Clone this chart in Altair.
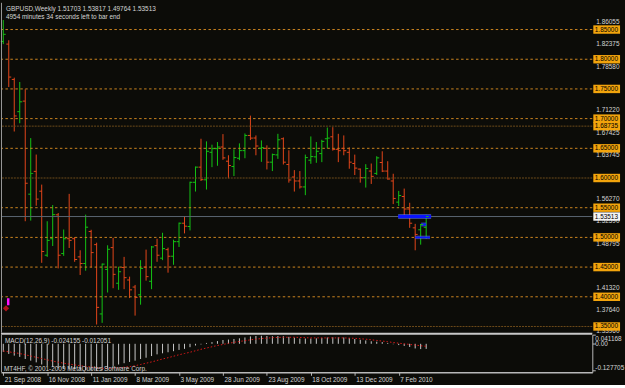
import altair as alt
import pandas as pd

FONT = "Liberation Sans"

# ---------------- data ----------------
opens = [1.8300, 1.8255, 1.7660, 1.7117, 1.7295, 1.5728, 1.6112, 1.5778, 1.4700, 1.4978,
         1.5380, 1.4728, 1.4978, 1.4978, 1.4672, 1.4560, 1.5100, 1.4878, 1.3711, 1.4461,
         1.4828, 1.4228, 1.4494, 1.4283, 1.4164, 1.4033, 1.4500, 1.4261, 1.4861, 1.4650,
         1.4794, 1.4683, 1.4928, 1.5239, 1.5183, 1.5928, 1.6183, 1.5970, 1.6433, 1.6494,
         1.6522, 1.6283, 1.6194, 1.6333, 1.6461, 1.6717, 1.6672, 1.6500, 1.6500, 1.6267,
         1.6389, 1.6661, 1.6228, 1.6017, 1.5950, 1.5850, 1.6300, 1.6356, 1.6411, 1.6661,
         1.6694, 1.6483, 1.6500, 1.6433, 1.6244, 1.6150, 1.6006, 1.6117, 1.6078, 1.6261,
         1.6117, 1.5950, 1.5594, 1.5689, 1.5478, 1.5161, 1.5128, 1.51703]
highs = [1.8660, 1.8320, 1.7690, 1.7617, 1.7494, 1.6672, 1.6395, 1.5889, 1.5272, 1.5545,
         1.5411, 1.5133, 1.5733, 1.5006, 1.4783, 1.5383, 1.5128, 1.4911, 1.4560, 1.4867,
         1.4994, 1.4506, 1.4672, 1.4339, 1.4200, 1.4617, 1.4794, 1.4856, 1.4978, 1.5078,
         1.4828, 1.4961, 1.5250, 1.5356, 1.5939, 1.6194, 1.6661, 1.6617, 1.6561, 1.6606,
         1.6739, 1.6383, 1.6483, 1.6583, 1.6750, 1.7050, 1.6717, 1.6633, 1.6550, 1.6411,
         1.6744, 1.6683, 1.6467, 1.6133, 1.6117, 1.6394, 1.6700, 1.6606, 1.6644, 1.6850,
         1.6856, 1.6744, 1.6717, 1.6517, 1.6394, 1.6161, 1.6233, 1.6244, 1.6367, 1.6450,
         1.6283, 1.6072, 1.5783, 1.5822, 1.5583, 1.5228, 1.5228, 1.53817]
lows = [1.8255, 1.7533, 1.6783, 1.6922, 1.5272, 1.5283, 1.5533, 1.4572, 1.4672, 1.4855,
        1.4478, 1.4689, 1.4822, 1.4589, 1.4367, 1.4439, 1.4494, 1.3533, 1.3561, 1.4072,
        1.4144, 1.4117, 1.4128, 1.3978, 1.3683, 1.3867, 1.4272, 1.4128, 1.4589, 1.4617,
        1.4406, 1.4539, 1.4839, 1.5067, 1.5117, 1.5772, 1.5950, 1.5806, 1.6183, 1.6206,
        1.6306, 1.5994, 1.6033, 1.6300, 1.6333, 1.6639, 1.6383, 1.6272, 1.6144, 1.6117,
        1.6322, 1.6228, 1.5922, 1.5772, 1.5822, 1.5711, 1.6239, 1.6256, 1.6267, 1.6500,
        1.6461, 1.6267, 1.6383, 1.6156, 1.6050, 1.5922, 1.5839, 1.5900, 1.6050, 1.6100,
        1.5972, 1.5561, 1.5528, 1.5361, 1.5161, 1.4783, 1.4878, 1.49764]
closes = [1.8420, 1.7700, 1.7045, 1.7283, 1.5912, 1.6078, 1.5645, 1.4762, 1.4950, 1.5383,
          1.4700, 1.4978, 1.4950, 1.4628, 1.4560, 1.5172, 1.4744, 1.3822, 1.4550, 1.4800,
          1.4378, 1.4422, 1.4322, 1.4117, 1.3989, 1.4478, 1.4339, 1.4839, 1.4700, 1.4811,
          1.4683, 1.4928, 1.5239, 1.5189, 1.5928, 1.6183, 1.5972, 1.6450, 1.6494, 1.6522,
          1.6339, 1.6211, 1.6344, 1.6461, 1.6717, 1.6672, 1.6539, 1.6511, 1.6267, 1.6394,
          1.6644, 1.6267, 1.5967, 1.5950, 1.5850, 1.6344, 1.6361, 1.6450, 1.6617, 1.6672,
          1.6483, 1.6460, 1.6460, 1.6267, 1.6167, 1.6006, 1.6161, 1.6028, 1.6339, 1.6117,
          1.5983, 1.5656, 1.5706, 1.5478, 1.5239, 1.5050, 1.5217, 1.53513]

macd_main = [-0.038, -0.048, -0.056, -0.062, -0.072, -0.080, -0.088, -0.098, -0.105, -0.110,
             -0.115, -0.118, -0.120, -0.122, -0.124, -0.124, -0.125, -0.1277, -0.126, -0.118,
             -0.105, -0.098, -0.092, -0.086, -0.080, -0.072, -0.066, -0.058, -0.050, -0.045,
             -0.040, -0.035, -0.029, -0.024, -0.016, -0.008, -0.003, 0.004, 0.008, 0.013,
             0.018, 0.020, 0.023, 0.026, 0.030, 0.035, 0.037, 0.038, 0.037, 0.036,
             0.037, 0.036, 0.033, 0.029, 0.025, 0.025, 0.025, 0.026, 0.028, 0.030,
             0.031, 0.031, 0.030, 0.027, 0.023, 0.019, 0.016, 0.012, 0.010, 0.008,
             0.004, -0.002, -0.006, -0.010, -0.015, -0.022, -0.025, -0.024155]
macd_signal = [-0.034, -0.038, -0.042, -0.046, -0.052, -0.058, -0.064, -0.070, -0.076, -0.082,
               -0.087, -0.092, -0.096, -0.100, -0.104, -0.107, -0.110, -0.113, -0.116, -0.117,
               -0.116, -0.114, -0.111, -0.108, -0.104, -0.098, -0.092, -0.086, -0.079, -0.072,
               -0.066, -0.059, -0.052, -0.046, -0.040, -0.033, -0.026, -0.020, -0.014, -0.008,
               -0.003, 0.002, 0.007, 0.011, 0.015, 0.019, 0.022, 0.025, 0.027, 0.029,
               0.030, 0.031, 0.031, 0.031, 0.030, 0.029, 0.028, 0.028, 0.028, 0.028,
               0.028, 0.028, 0.028, 0.027, 0.026, 0.024, 0.022, 0.019, 0.016, 0.013,
               0.010, 0.006, 0.003, 0.000, -0.003, -0.006, -0.009, -0.012051]

level_prices = [1.85, 1.80, 1.75, 1.70, 1.68735, 1.65, 1.60, 1.55, 1.50, 1.45, 1.40, 1.35]
level_labels = ["1.85000", "1.80000", "1.75000", "1.70000", "1.68735", "1.65000",
                "1.60000", "1.55000", "1.50000", "1.45000", "1.40000", "1.35000"]
level_dim = [False, False, False, False, True, False, True, False, False, False, False, True]

price_ticks = [1.86055, 1.82375, 1.78580, 1.71220, 1.67425, 1.63745, 1.56270,
               1.52590, 1.48795, 1.41320, 1.37640, 1.33960]
price_tick_labels = ["1.86055", "1.82375", "1.78580", "1.71220", "1.67425", "1.63745",
                     "1.56270", "1.52590", "1.48795", "1.41320", "1.37640", "1.33960"]
bid_price = 1.53513
bid_label = "1.53513"

date_ticks = [0, 8, 16, 24, 32, 40, 48, 56, 64, 72]
date_labels = ["21 Sep 2008", "16 Nov 2008", "11 Jan 2009", "8 Mar 2009", "3 May 2009",
               "28 Jun 2009", "23 Aug 2009", "18 Oct 2009", "13 Dec 2009", "7 Feb 2010"]

macd_ticks = [0.041168, 0.0, -0.127705]
macd_tick_labels = ["0.041168", "0.00", "-0.127705"]

blue_start = [71.9, 75.0, 76.1]
blue_end = [77.9, 77.7, 77.0]
blue_price = [1.53513, 1.5000, 1.5217]
blue_width = [3.0, 1.5, 2.0]

title_line1 = "GBPUSD,Weekly  1.51703 1.53817 1.49764 1.53513"
title_line2 = "4954 minutes 34 seconds left to bar end"
macd_title = "MACD(12,26,9) -0.024155 -0.012051"
copyright_text = "MT4HF, \u00a9 2001-2009 MetaQuotes Software Corp."

# ---------------- layout ----------------
W = 597
H_MAIN = 333
H_MACD = 38
BG = "#0c0c08"
FRAME = "#b8b8b8"
LABEL = "#d4d4d4"

n = len(opens)
idx = list(range(n))
df = pd.DataFrame({"i": idx, "o": opens, "h": highs, "l": lows, "c": closes})
df["dir"] = ["up" if c >= o else "down" for o, c in zip(opens, closes)]

x_scale = alt.Scale(domain=[-0.415, 107.25], nice=False, zero=False)
y_scale = alt.Scale(domain=[1.3396, 1.8950], nice=False, zero=False)
col_scale = alt.Scale(domain=["up", "down"], range=["#14c414", "#e4461a"])

X = alt.X("i:Q", scale=x_scale, axis=None)


def PY(field):
    return alt.Y(field, scale=y_scale, axis=None, title=None)


wicks = alt.Chart(df).mark_rule(strokeWidth=1).encode(
    x=X,
    y=alt.Y("l:Q", scale=y_scale, title=None, axis=alt.Axis(
        orient="right", values=price_ticks, labels=False,
        tickColor=FRAME, tickSize=3, domainColor=FRAME, grid=False)),
    y2="h:Q",
    color=alt.Color("dir:N", scale=col_scale, legend=None))
open_ticks = alt.Chart(df).mark_tick(orient="horizontal", size=2.5, thickness=1,
                                     xOffset=-1.25, opacity=1).encode(
    x=X, y=PY("o:Q"), color=alt.Color("dir:N", scale=col_scale, legend=None))
close_ticks = alt.Chart(df).mark_tick(orient="horizontal", size=2.5, thickness=1,
                                      xOffset=1.25, opacity=1).encode(
    x=X, y=PY("c:Q"), color=alt.Color("dir:N", scale=col_scale, legend=None))

df_lv = pd.DataFrame({"p": level_prices, "label": level_labels, "dim": level_dim})
lv_bright = alt.Chart(df_lv[~df_lv["dim"]]).mark_rule(
    strokeWidth=1, color="#cc8620", strokeDash=[2.5, 2.5]).encode(y=PY("p:Q"))
lv_dimmed = alt.Chart(df_lv[df_lv["dim"]]).mark_rule(
    strokeWidth=1, color="#6e4c1a", strokeDash=[2, 1]).encode(y=PY("p:Q"))

df_bid = pd.DataFrame({"p": [bid_price], "label": [bid_label]})
bid_line = alt.Chart(df_bid).mark_rule(strokeWidth=1, color="#5a6672").encode(y=PY("p:Q"))

df_blue = pd.DataFrame({"a": blue_start, "b": blue_end, "p": blue_price, "w": blue_width})
blue_glow = alt.Chart(df_blue).mark_rule(color="#5a78ff", opacity=0.55).encode(
    x=X, x2="b:Q", y=PY("p:Q"),
    strokeWidth=alt.StrokeWidth("w2:Q", scale=None)).transform_calculate(
    w2="datum.w + 2").transform_calculate(i="datum.a")
blue_core = alt.Chart(df_blue).mark_rule(color="#0a14ff").encode(
    x=X, x2="b:Q", y=PY("p:Q"),
    strokeWidth=alt.StrokeWidth("w:Q", scale=None)).transform_calculate(i="datum.a")

# gray price scale labels (drawn as text so none is dropped)
df_pt = pd.DataFrame({"p": price_ticks[:-1], "t": price_tick_labels[:-1]})
pt_txt = alt.Chart(df_pt).mark_text(align="left", baseline="middle", font=FONT,
                                    fontSize=6.5, color=LABEL, dy=-1).encode(
    y=PY("p:Q"), x=alt.value(601), text="t:N")
df_lowtick = pd.DataFrame({"p": [price_ticks[-1]], "t": [price_tick_labels[-1]]})
low_lbl = alt.Chart(df_lowtick).mark_text(align="left", baseline="bottom", font=FONT,
                                          fontSize=6.5, color=LABEL, dy=1.5).encode(
    y=PY("p:Q"), x=alt.value(601), text="t:N")

lv_box = alt.Chart(df_lv).mark_tick(orient="horizontal", size=27, thickness=8.5,
                                    color="#f2a40c", opacity=1).encode(
    y=PY("p:Q"), x=alt.value(611.5))
lv_txt = alt.Chart(df_lv).mark_text(align="left", baseline="middle", font=FONT,
                                    fontSize=6.5, color="#000000").encode(
    y=PY("p:Q"), x=alt.value(599.5), text="label:N")
bid_box = alt.Chart(df_bid).mark_tick(orient="horizontal", size=27, thickness=8.5,
                                      color="#f4f4f4", opacity=1).encode(
    y=PY("p:Q"), x=alt.value(611.5))
bid_txt = alt.Chart(df_bid).mark_text(align="left", baseline="middle", font=FONT,
                                      fontSize=6.5, color="#000000").encode(
    y=PY("p:Q"), x=alt.value(599.5), text="label:N")

df_marker = pd.DataFrame({"i": [0.5, 0.9], "p": [1.3805, 1.3915]})
marker_red = alt.Chart(df_marker.iloc[[0]]).mark_point(
    shape="diamond", size=40, filled=True, color="#c8141a", opacity=0.85).encode(
    x=X, y=PY("p:Q"))
marker_mag = alt.Chart(df_marker.iloc[[1]]).mark_tick(
    orient="vertical", size=7, thickness=2.5, color="#ff10ff", opacity=1).encode(
    x=X, y=PY("p:Q"))

one = pd.DataFrame({"k": [0]})
left_border = alt.Chart(one).mark_rule(color="#9a9a9a", strokeWidth=1).encode(
    x=alt.value(0.5), y=alt.value(0), y2=alt.value(H_MAIN))
title1 = alt.Chart(pd.DataFrame({"t": [title_line1]})).mark_text(
    align="left", baseline="middle", font=FONT, fontSize=6.5, color=LABEL).encode(
    x=alt.value(5), y=alt.value(6.5), text="t:N")
title2 = alt.Chart(pd.DataFrame({"t": [title_line2]})).mark_text(
    align="left", baseline="middle", font=FONT, fontSize=6.5, color=LABEL).encode(
    x=alt.value(5), y=alt.value(14.5), text="t:N")

main = alt.layer(
    wicks, lv_bright, lv_dimmed, bid_line, blue_glow, blue_core,
    open_ticks, close_ticks, marker_red, marker_mag,
    pt_txt, low_lbl, lv_box, lv_txt, bid_box, bid_txt, left_border, title1, title2
).properties(width=W, height=H_MAIN)

# ---------------- MACD panel ----------------
df_m = pd.DataFrame({"i": idx, "m": macd_main, "s": macd_signal})
m_scale = alt.Scale(domain=[-0.135, 0.0435], nice=False, zero=False)
label_expr = "[" + ",".join("'%s'" % d for d in date_labels) + "][round(datum.value / 8)]"

date_axis = alt.Axis(
    values=date_ticks, labelExpr=label_expr, labelAlign="left", labelBaseline="top",
    labelFont=FONT, labelFontSize=6.5, labelColor=LABEL, labelPadding=1,
    labelOffset=1, tickColor=FRAME, tickSize=3, domainColor=FRAME, domainWidth=1.5,
    grid=False, labelOverlap=False)
MX = alt.X("i:Q", scale=x_scale, title=None, axis=date_axis)


def MY(field):
    return alt.Y(field, scale=m_scale, title=None, axis=alt.Axis(
        orient="right", values=macd_ticks, labels=False, tickColor=FRAME, tickSize=3,
        domainColor=FRAME, grid=False))


hist = alt.Chart(df_m).mark_rule(strokeWidth=1, color="#c8c8c8").encode(
    x=MX, y=MY("m:Q"), y2=alt.datum(0))
sig = alt.Chart(df_m).mark_line(color="#d81818", strokeWidth=1, strokeDash=[1.5, 2]).encode(
    x=MX, y=MY("s:Q"))

df_ml = pd.DataFrame({"v": macd_ticks, "t": macd_tick_labels})
ml_top = alt.Chart(df_ml.iloc[[0]]).mark_text(align="left", baseline="middle", font=FONT,
                                              fontSize=6.5, color=LABEL, dy=3.5).encode(
    y=MY("v:Q"), x=alt.value(600), text="t:N")
ml_mid = alt.Chart(df_ml.iloc[[1]]).mark_text(align="left", baseline="middle", font=FONT,
                                              fontSize=6.5, color=LABEL, dy=0.5).encode(
    y=MY("v:Q"), x=alt.value(600), text="t:N")
ml_bot = alt.Chart(df_ml.iloc[[2]]).mark_text(align="left", baseline="middle", font=FONT,
                                              fontSize=6.5, color=LABEL, dy=-2.5).encode(
    y=MY("v:Q"), x=alt.value(600), text="t:N")

sep = alt.Chart(one).mark_rule(color="#c8c8c8", strokeWidth=2).encode(
    x=alt.value(0), x2=alt.value(W), y=alt.value(-1))
m_left = alt.Chart(one).mark_rule(color="#9a9a9a", strokeWidth=1).encode(
    x=alt.value(0.5), y=alt.value(0), y2=alt.value(H_MACD))
m_title = alt.Chart(pd.DataFrame({"t": [macd_title]})).mark_text(
    align="left", baseline="middle", font=FONT, fontSize=6.5, color=LABEL).encode(
    x=alt.value(4), y=alt.value(6), text="t:N")
m_copy = alt.Chart(pd.DataFrame({"t": [copyright_text]})).mark_text(
    align="left", baseline="middle", font=FONT, fontSize=6.5, color=LABEL).encode(
    x=alt.value(3), y=alt.value(35), text="t:N")

macd = alt.layer(hist, sig, ml_top, ml_mid, ml_bot, sep, m_left, m_title, m_copy).properties(
    width=W, height=H_MACD)

chart = alt.vconcat(main, macd, spacing=2, bounds="flush").properties(
    padding={"left": 0, "top": 0, "right": 0, "bottom": 0},
    background=BG
).configure_view(stroke=None).configure_axis(labelOverlap=False)

chart.save("out.html", embed_options={"renderer": "svg", "actions": False})
